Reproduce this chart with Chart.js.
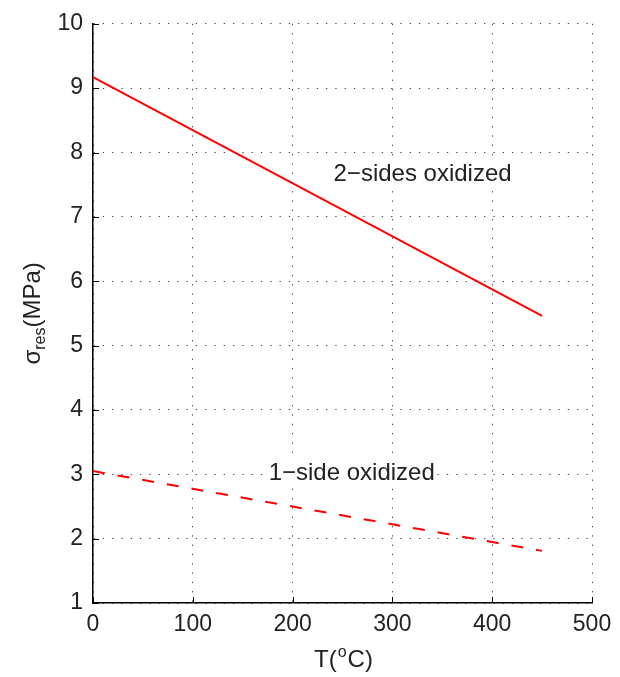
<!DOCTYPE html>
<html>
<head>
<meta charset="utf-8">
<script src="https://cdn.jsdelivr.net/npm/chart.js@4"></script>
<style>
  html, body { margin: 0; padding: 0; background: #fff; }
  #wrap { width: 620px; height: 677px; }
</style>
</head>
<body>
<div id="wrap"><canvas id="stressChart"></canvas></div>
<script>
// values
const temps = [0, 450];
const twoSides = [9.17, 5.46];
const oneSide = [3.05, 1.81];
const xTicks = [0, 100, 200, 300, 400, 500];
const yTicks = [1, 2, 3, 4, 5, 6, 7, 8, 9, 10];
const labelTexts = ['2\u2212sides oxidized', '1\u2212side oxidized'];
const labelX = [241, 176];
const labelY = [7.66, 3.02];

const FONT = '"Liberation Sans", Arial, Helvetica, sans-serif';

// axis titles with sub/superscripts, inward ticks, and text labels
const extras = {
	id: 'extras',
	afterDraw(chart) {
		const { ctx, chartArea, scales } = chart;
		const xs = scales.x, ys = scales.y;
		ctx.save();

		// inward tick marks
		ctx.strokeStyle = '#000';
		ctx.lineWidth = 1;
		ctx.beginPath();
		xTicks.forEach(v => {
			const px = Math.round(xs.getPixelForValue(v)) + 0.5;
			ctx.moveTo(px, chartArea.bottom);
			ctx.lineTo(px, chartArea.bottom - 6);
		});
		yTicks.forEach(v => {
			const py = Math.round(ys.getPixelForValue(v)) + 0.5;
			ctx.moveTo(chartArea.left, py);
			ctx.lineTo(chartArea.left + 6, py);
		});
		ctx.stroke();

		// text labels
		ctx.font = '24px ' + FONT;
		ctx.textBaseline = 'middle';
		ctx.textAlign = 'left';
		labelTexts.forEach((t, i) => {
			const px = xs.getPixelForValue(labelX[i]);
			const py = ys.getPixelForValue(labelY[i]);
			const w = ctx.measureText(t).width;
			ctx.fillStyle = '#fff';
			ctx.fillRect(px - 2, py - 14, w + 4, 28);
			ctx.fillStyle = '#222';
			ctx.fillText(t, px, py);
		});

		// x title: T(oC)
		const big = '24px ' + FONT, small = '16px ' + FONT;
		ctx.textBaseline = 'alphabetic';
		const a = 'T(', c = 'C)';
		ctx.font = big; const wa = ctx.measureText(a).width, wc = ctx.measureText(c).width;
		ctx.font = small; const wo = ctx.measureText('o').width;
		let x0 = (chartArea.left + chartArea.right) / 2 - (wa + wo + wc) / 2;
		const yb = 667;
		ctx.fillStyle = '#222';
		ctx.font = big; ctx.fillText(a, x0, yb);
		ctx.font = small; ctx.fillText('o', x0 + wa + 1, yb - 10);
		ctx.font = big; ctx.fillText(c, x0 + wa + wo + 2, yb);

		// y title: sigma_res (MPa)
		ctx.translate(40, (chartArea.top + chartArea.bottom) / 2);
		ctx.rotate(-Math.PI / 2);
		const s = '\u03c3', r = 'res', m = '(MPa)';
		ctx.font = big; const ws = ctx.measureText(s).width, wm = ctx.measureText(m).width;
		ctx.font = small; const wr = ctx.measureText(r).width;
		let t0 = -(ws + wr + wm) / 2;
		ctx.font = big; ctx.fillText(s, t0, 0);
		ctx.font = small; ctx.fillText(r, t0 + ws, 5);
		ctx.font = big; ctx.fillText(m, t0 + ws + wr, 0);

		ctx.restore();
	}
};

new Chart('stressChart', {
	type: 'scatter',
	data: {
		datasets: [
			{
				data: temps.map((t, i) => ({ x: t, y: twoSides[i] })),
				showLine: true,
				borderColor: '#ff0000',
				borderWidth: 2,
				pointRadius: 0,
			},
			{
				data: temps.map((t, i) => ({ x: t, y: oneSide[i] })),
				showLine: true,
				borderColor: '#ff0000',
				borderWidth: 2,
				borderDash: [12, 13],
				pointRadius: 0,
			}
		]
	},
	options: {
		responsive: true,
		maintainAspectRatio: false,
		animation: false,
		events: [],
		layout: { padding: { top: 22, right: 28, left: 0, bottom: 0 } },
		plugins: { legend: { display: false }, tooltip: { enabled: false } },
		scales: {
			x: {
				type: 'linear',
				min: 0, max: 500,
				afterBuildTicks: s => { s.ticks = xTicks.map(v => ({ value: v })); },
				afterFit: s => { s.height = 74; },
				ticks: { font: { size: 23, family: FONT }, color: '#222', padding: 8 },
				grid: { color: '#444', lineWidth: 1, drawTicks: false },
				border: { display: true, color: '#000', width: 1.5, dash: [1.3, 8] },
			},
			y: {
				type: 'linear',
				min: 1, max: 10,
				afterBuildTicks: s => { s.ticks = yTicks.map(v => ({ value: v })); },
				afterFit: s => { s.width = 93; },
				ticks: { font: { size: 23, family: FONT }, color: '#222', padding: 10 },
				grid: { color: '#444', lineWidth: 1, drawTicks: false },
				border: { display: true, color: '#000', width: 1.5, dash: [1.3, 8] },
			}
		}
	},
	plugins: [extras]
});
</script>
</body>
</html>
